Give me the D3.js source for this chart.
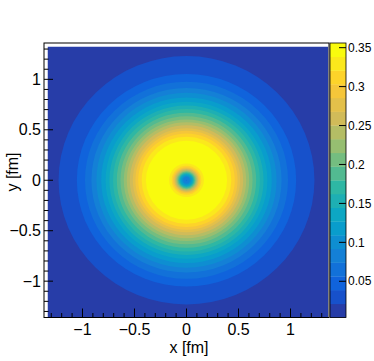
<!DOCTYPE html>
<html>
<head>
<meta charset="utf-8">
<script src="https://cdn.jsdelivr.net/npm/d3@7"></script>
<style>
  body { margin: 0; background: #fff; }
  svg { display: block; }
  text { font-family: "Liberation Sans", Arial, Helvetica, sans-serif; fill: #000; }
</style>
</head>
<body>
<svg id="chart" width="374" height="361"></svg>
<script>
// colour scale range and number of contour levels
const zMin = 0.0035, zMax = 0.356, nLevels = 20;

// band k covers z >= level k; outer / inner radius (fm) of that region
const ringOuter = [9, 1.23, 1.054, 0.976, 0.914, 0.866, 0.82, 0.778, 0.741, 0.706,
                   0.67, 0.635, 0.603, 0.574, 0.545, 0.516, 0.491, 0.464, 0.431, 0.39];
const ringInner = [0, 0, 0, 0, 0.006, 0.031, 0.042, 0.053, 0.062, 0.068,
                   0.075, 0.082, 0.088, 0.095, 0.103, 0.111, 0.118, 0.13, 0.143, 0.167];

const xTicks = [-1, -0.5, 0, 0.5, 1];
const yTicks = [-1, -0.5, 0, 0.5, 1];
const zTicks = [0.05, 0.1, 0.15, 0.2, 0.25, 0.3, 0.35];

// ROOT kBird palette
const birdStops = [0, 0.125, 0.25, 0.375, 0.5, 0.625, 0.75, 0.875, 1];
const birdRed   = [0.2082, 0.0592, 0.0780, 0.0232, 0.1802, 0.5301, 0.8186, 0.9956, 0.9764];
const birdGreen = [0.1664, 0.3599, 0.5041, 0.6419, 0.7178, 0.7492, 0.7328, 0.7862, 0.9832];
const birdBlue  = [0.5293, 0.8684, 0.8385, 0.7914, 0.6425, 0.4662, 0.3499, 0.1968, 0.0539];

const svg = d3.select("#chart");
const frame = { left: 44, right: 329, top: 43, bottom: 317.5 };

const x = d3.scaleLinear().domain([-1.37, 1.37]).range([frame.left, frame.right]);
const y = d3.scaleLinear().domain([-1.36, 1.36]).range([frame.bottom, frame.top]);
const z = d3.scaleLinear().domain([zMin, zMax]).range([frame.bottom, frame.top]);

const birdR = d3.scaleLinear().domain(birdStops).range(birdRed);
const birdG = d3.scaleLinear().domain(birdStops).range(birdGreen);
const birdB = d3.scaleLinear().domain(birdStops).range(birdBlue);
function bandColor(k) {
  const idx = Math.floor((k + 0.99) * 255 / nLevels);
  const f = Math.min(idx, 254) / 254;
  return d3.rgb(birdR(f) * 255, birdG(f) * 255, birdB(f) * 255).formatHex();
}

// filled area (histogram range sits a little inside the frame on left/top)
const fill = { x0: 47.5, x1: 328, y0: 46.5, y1: 317 };
svg.append("clipPath").attr("id", "fillclip")
  .append("rect")
  .attr("x", fill.x0).attr("y", fill.y0)
  .attr("width", fill.x1 - fill.x0).attr("height", fill.y1 - fill.y0);

const plot = svg.append("g").attr("clip-path", "url(#fillclip)");
plot.append("rect")
  .attr("x", fill.x0).attr("y", fill.y0)
  .attr("width", fill.x1 - fill.x0).attr("height", fill.y1 - fill.y0)
  .attr("fill", bandColor(0));

function ellipse(r) {
  const cx = x(0), cy = y(0);
  const rx = x(r) - x(0), ry = y(0) - y(r);
  if (rx <= 0) return "";
  return `M${cx - rx},${cy}A${rx},${ry} 0 1 0 ${cx + rx},${cy}A${rx},${ry} 0 1 0 ${cx - rx},${cy}Z`;
}

const bands = d3.range(1, nLevels).map(k => ({ k: k, outer: ringOuter[k], inner: ringInner[k] }));
plot.selectAll("path.band")
  .data(bands)
  .join("path")
  .attr("class", "band")
  .attr("d", d => ellipse(d.outer) + ellipse(d.inner))
  .attr("fill-rule", "evenodd")
  .attr("fill", d => bandColor(d.k));

// frame
svg.append("rect")
  .attr("x", frame.left).attr("y", frame.top)
  .attr("width", frame.right - frame.left).attr("height", frame.bottom - frame.top)
  .attr("fill", "none").attr("stroke", "#000").attr("stroke-width", 1);

// x axis ticks (inward)
const xMinor = d3.range(-13, 14).map(i => i / 10);
svg.selectAll("line.xminor")
  .data(xMinor)
  .join("line")
  .attr("x1", d => x(d)).attr("x2", d => x(d))
  .attr("y1", frame.bottom).attr("y2", d => frame.bottom - (xTicks.includes(d) ? 9 : 4.5))
  .attr("stroke", "#000").attr("stroke-width", 1);
svg.selectAll("text.xlab")
  .data(xTicks)
  .join("text")
  .attr("x", d => x(d)).attr("y", 335)
  .attr("text-anchor", "middle")
  .attr("font-size", 16)
  .text(d => d3.format("")(d).replace("-", "\u2212"));
svg.append("text")
  .attr("x", 189).attr("y", 353)
  .attr("text-anchor", "middle").attr("font-size", 16)
  .text("x [fm]");

// y axis ticks (inward)
const yMinor = d3.range(-13, 14).map(i => i / 10);
svg.selectAll("line.yminor")
  .data(yMinor)
  .join("line")
  .attr("y1", d => y(d)).attr("y2", d => y(d))
  .attr("x1", frame.left).attr("x2", d => frame.left + (yTicks.includes(d) ? 9 : 4.5))
  .attr("stroke", "#000").attr("stroke-width", 1);
svg.selectAll("text.ylab")
  .data(yTicks)
  .join("text")
  .attr("x", 41).attr("y", d => y(d))
  .attr("dy", "0.35em")
  .attr("text-anchor", "end")
  .attr("font-size", 16)
  .text(d => d3.format("")(d).replace("-", "\u2212"));
svg.append("text")
  .attr("transform", "translate(18,172) rotate(-90)")
  .attr("text-anchor", "middle").attr("font-size", 16)
  .text("y [fm]");

// palette
const pal = { x0: 330, x1: 346 };
const levelEdges = d3.range(nLevels).map(k => ({ k: k, lo: zMin + k * (zMax - zMin) / nLevels, hi: zMin + (k + 1) * (zMax - zMin) / nLevels }));
svg.selectAll("rect.pal")
  .data(levelEdges)
  .join("rect")
  .attr("class", "pal")
  .attr("x", pal.x0).attr("width", pal.x1 - pal.x0)
  .attr("y", d => z(d.hi)).attr("height", d => z(d.lo) - z(d.hi) + 0.3)
  .attr("fill", d => bandColor(d.k));
svg.append("rect")
  .attr("x", pal.x0).attr("y", frame.top)
  .attr("width", pal.x1 - pal.x0).attr("height", frame.bottom - frame.top)
  .attr("fill", "none").attr("stroke", "#000").attr("stroke-width", 0.8);
svg.selectAll("line.ztick")
  .data(zTicks)
  .join("line")
  .attr("x1", pal.x1).attr("x2", pal.x1 - 7)
  .attr("y1", d => z(d)).attr("y2", d => z(d))
  .attr("stroke", "#000").attr("stroke-width", 1);
svg.selectAll("text.zlab")
  .data(zTicks)
  .join("text")
  .attr("x", pal.x1 + 2).attr("y", d => z(d))
  .attr("dy", "0.35em")
  .attr("font-size", 12)
  .text(d => d3.format("")(d));
</script>
</body>
</html>
